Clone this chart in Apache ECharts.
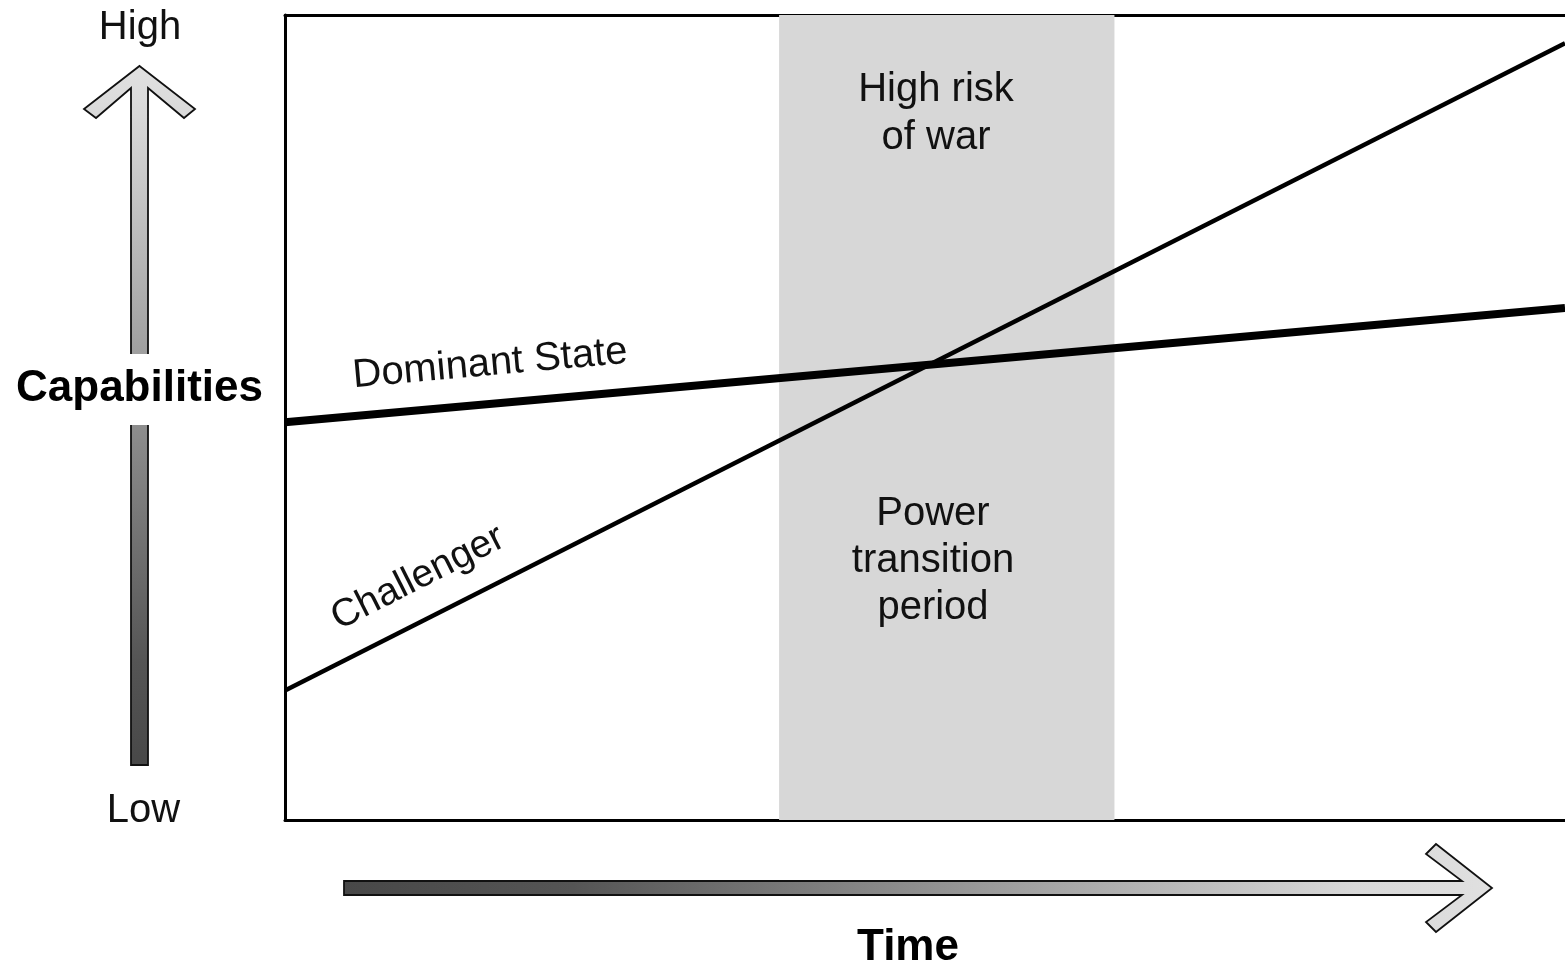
<!DOCTYPE html>
<html>
<head>
<meta charset="utf-8">
<script src="https://cdn.jsdelivr.net/npm/echarts@6/dist/echarts.min.js"></script>
<style>
html,body{margin:0;padding:0;background:#fff;}
#chart{width:1565px;height:969px;}
</style>
</head>
<body>
<div id="chart"></div>
<script>
// ---- data ----
const timeRange = [0, 100];
const capabilityRange = [0, 100];
const seriesNames = ['Dominant State', 'Challenger'];
const dominantState = [[0, 49.4], [100, 63.6]];
const challenger = [[0, 16.1], [100, 96.5]];
const transitionPeriod = [38.6, 64.8];
const bandLabels = ['High risk\nof war', 'Power\ntransition\nperiod'];
const capabilityEndLabels = ['High', 'Low'];
const axisTitles = ['Capabilities', 'Time'];

const FONT = "'Liberation Sans', Arial, sans-serif";
const chart = echarts.init(document.getElementById('chart'), null, {renderer: 'canvas'});

const vGrad = {type: 'linear', x: 0, y: 0, x2: 0, y2: 1, colorStops: [
  {offset: 0, color: '#e0e0e0'}, {offset: 0.05, color: '#dcdcdc'}, {offset: 0.85, color: '#555555'}, {offset: 1, color: '#484848'}]};
const hGrad = {type: 'linear', x: 0, y: 0, x2: 1, y2: 0, colorStops: [
  {offset: 0, color: '#484848'}, {offset: 0.2, color: '#555555'}, {offset: 0.88, color: '#d8d8d8'}, {offset: 1, color: '#e0e0e0'}]};

function txt(text, x, y, size, opts) {
  return Object.assign({
    type: 'text', x: x, y: y, z: 100,
    style: Object.assign({
      text: text, fontSize: size, fontFamily: FONT, fill: '#111',
      align: 'center', verticalAlign: 'middle'
    }, (opts && opts.style) || {})
  }, (opts && opts.el) || {});
}

const option = {
  animation: false,
  backgroundColor: '#fff',
  grid: {left: 285, right: 0, top: 15, bottom: 149, show: false},
  xAxis: [
    {type: 'value', min: timeRange[0], max: timeRange[1], position: 'bottom',
     axisLine: {show: true, onZero: false, lineStyle: {color: '#000', width: 3}},
     axisTick: {show: false}, axisLabel: {show: false}, splitLine: {show: false}},
    {type: 'value', min: timeRange[0], max: timeRange[1], position: 'top',
     axisLine: {show: true, onZero: false, lineStyle: {color: '#000', width: 3}},
     axisTick: {show: false}, axisLabel: {show: false}, splitLine: {show: false}}
  ],
  yAxis: {type: 'value', min: capabilityRange[0], max: capabilityRange[1],
    axisLine: {show: true, onZero: false, lineStyle: {color: '#000', width: 3}},
    axisTick: {show: false}, axisLabel: {show: false}, splitLine: {show: false}},
  series: [
    {type: 'line', data: [], z: 1, silent: true,
     markArea: {silent: true, itemStyle: {color: '#d7d7d7', opacity: 1},
       data: [[{xAxis: transitionPeriod[0]}, {xAxis: transitionPeriod[1]}]]}},
    {name: seriesNames[0], type: 'line', data: dominantState, z: 5, symbol: 'none',
     lineStyle: {color: '#000', width: 8}},
    {name: seriesNames[1], type: 'line', data: challenger, z: 5, symbol: 'none',
     lineStyle: {color: '#000', width: 4.5}}
  ],
  graphic: [
    // vertical capability arrow
    {type: 'polygon', z: 50, shape: {points: [
      [139.5, 66], [195, 109], [184, 118], [148, 88], [148, 765], [131, 765], [131, 88], [96, 118], [84, 109]]},
     style: {fill: vGrad, stroke: '#111', lineWidth: 1.8, lineJoin: 'miter'}},
    {type: 'rect', z: 60, shape: {x: 120, y: 354, width: 40, height: 71}, style: {fill: '#fff'}},
    // horizontal time arrow
    {type: 'polygon', z: 50, shape: {points: [
      [344, 881], [1462, 881], [1426, 854], [1436, 844], [1492, 888], [1436, 932], [1426, 922], [1462, 895], [344, 895]]},
     style: {fill: hGrad, stroke: '#111', lineWidth: 1.8, lineJoin: 'miter'}},
    txt(capabilityEndLabels[0], 140, 28, 40),
    txt(capabilityEndLabels[1], 143.5, 811, 40),
    txt(axisTitles[0], 139.5, 389, 44, {style: {fontWeight: 'bold', fill: '#000'}}),
    txt(axisTitles[1], 908, 948, 44, {style: {fontWeight: 'bold', fill: '#000'}}),
    txt(bandLabels[0], 936, 114, 40, {style: {lineHeight: 48}}),
    txt(bandLabels[1], 933, 561, 40, {style: {lineHeight: 47}}),
    txt(seriesNames[0], 490, 364, 40, {el: {rotation: Math.atan((423 - 308) / 1280)}}),
    txt(seriesNames[1], 418, 578, 39, {el: {rotation: Math.atan((690 - 43) / 1280)}})
  ]
};
chart.setOption(option);
</script>
</body>
</html>
